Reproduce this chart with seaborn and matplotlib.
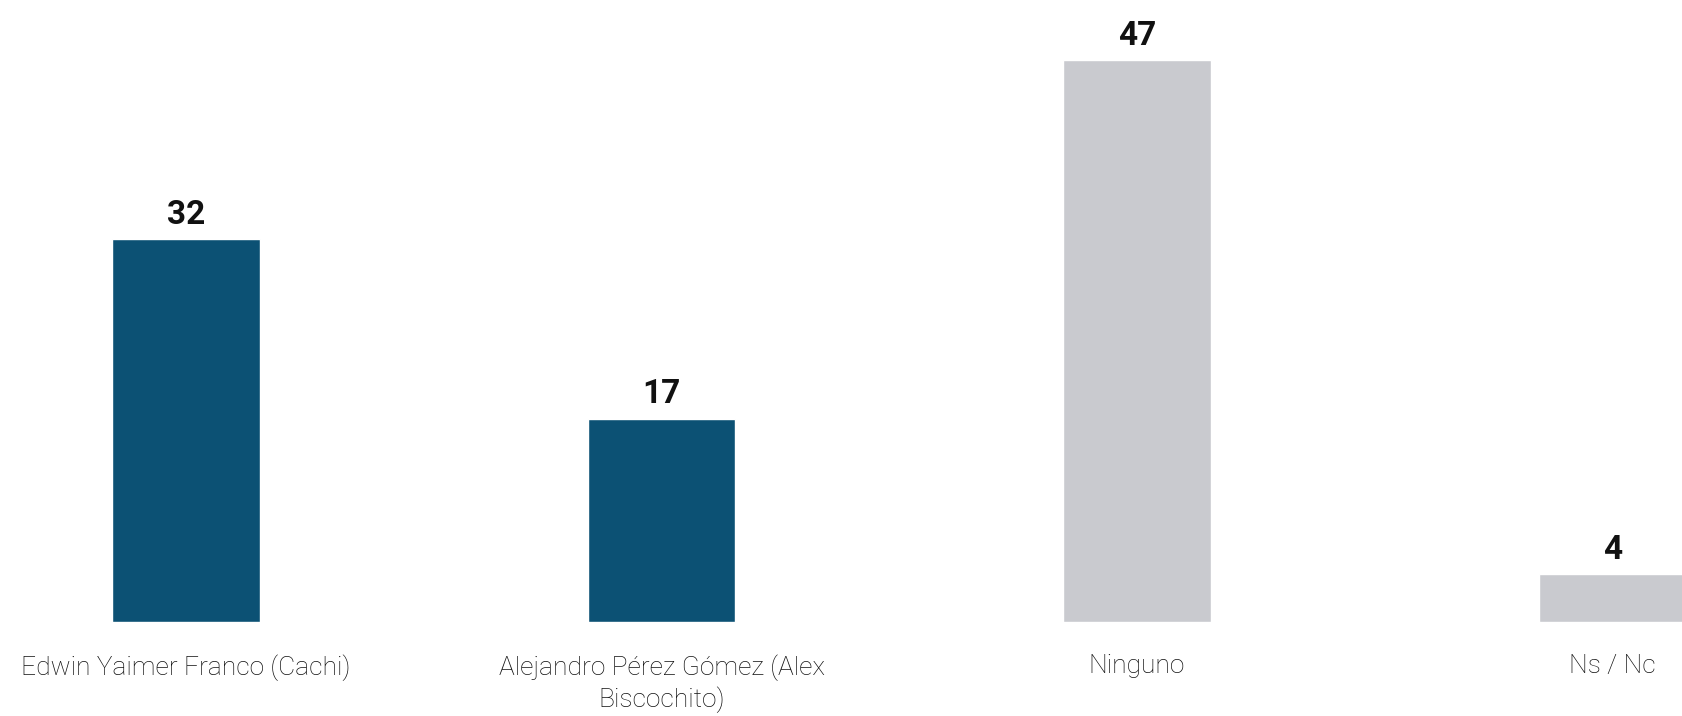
import matplotlib
matplotlib.use('Agg')
import matplotlib.pyplot as plt
import seaborn as sns

# datos del gráfico
categorias = ['Edwin Yaimer Franco (Cachi)',
              'Alejandro Pérez Gómez (Alex\nBiscochito)',
              'Ninguno',
              'Ns / Nc']
valores = [32, 17, 47, 4]
colores = ['#0c5174', '#0c5174', '#c9cacf', '#c9cacf']

sns.set_style('white')
plt.rcParams['font.family'] = ['Roboto', 'DejaVu Sans']

fig = plt.figure(figsize=(16.83, 7.16), dpi=100)
ax = fig.add_axes([0, 94 / 716, 1, 598 / 716])

sns.barplot(x=categorias, y=valores, hue=categorias, palette=colores,
            width=0.311, saturation=1, legend=False, ax=ax)

# etiquetas de valor encima de cada barra
for cont in ax.containers:
    ax.bar_label(cont, fmt='%d', padding=6, fontsize=24,
                 fontweight='semibold', color='#111111')

ax.set_xlim(-0.391, 3.148)
ax.set_ylim(0, 50)
ax.set_xlabel('')
ax.set_ylabel('')
ax.set_yticks([])
ax.tick_params(axis='x', length=0, pad=23, labelsize=19, labelcolor='#111111')
for lbl in ax.get_xticklabels():
    lbl.set_fontweight('light')
    lbl.set_linespacing(1.3)
sns.despine(ax=ax, left=True, bottom=True)

fig.savefig('out.png', dpi=100, facecolor='white')
